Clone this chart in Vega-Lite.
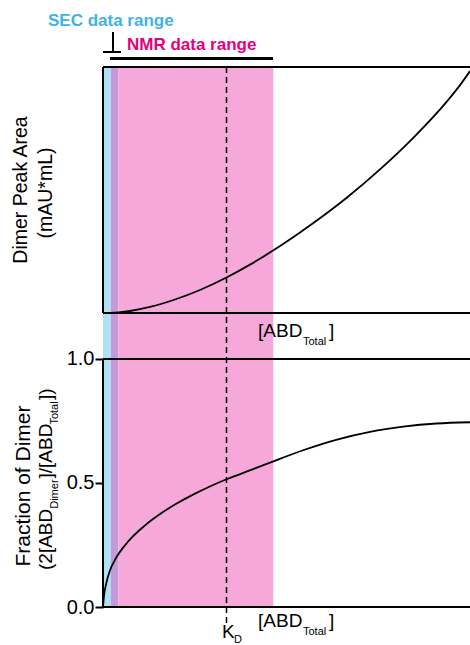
{
  "$schema": "https://vega.github.io/schema/vega-lite/v6.json",
  "width": 367,
  "height": 540,
  "autosize": {"type": "none"},
  "padding": {"left": 103, "top": 67, "right": 0, "bottom": 38},
  "background": "white",
  "config": {"view": {"stroke": null}, "font": "Liberation Sans"},
  "datasets": {
    "bands": [
      {"band": "SEC", "x1": 0.0, "x2": 0.0623, "y1": 0, "y2": 2.1774},
      {"band": "overlap", "x1": 0.0623, "x2": 0.1239, "y1": 0, "y2": 2.1774},
      {"band": "NMR", "x1": 0.1239, "x2": 1.379, "y1": 0, "y2": 2.1774}
    ],
    "frame": [
      {"x1": 0, "x2": 0, "y1": 1.1855, "y2": 2.1774},
      {"x1": 0, "x2": 2.9717, "y1": 2.1774, "y2": 2.1774},
      {"x1": 0, "x2": 2.9717, "y1": 1.1855, "y2": 1.1855},
      {"x1": 0, "x2": 2.9717, "y1": 1, "y2": 1},
      {"x1": 0, "x2": 0, "y1": 0, "y2": 1},
      {"x1": 0, "x2": 2.9717, "y1": 0, "y2": 0}
    ],
    "secMark": [
      {"x1": 0.081, "x2": 0.081, "y1": 2.2379, "y2": 2.3185},
      {"x1": 0.0, "x2": 0.1457, "y1": 2.2379, "y2": 2.2379}
    ],
    "nmrMark": [
      {"x1": 0.0567, "x2": 1.3765, "y1": 2.2117, "y2": 2.2117}
    ],
    "curves": [
      {"curve": "peak", "x": 0.008, "y": 1.1855},
      {"curve": "peak", "x": 0.0567, "y": 1.1857},
      {"curve": "peak", "x": 0.2186, "y": 1.1935},
      {"curve": "peak", "x": 0.3806, "y": 1.2097},
      {"curve": "peak", "x": 0.583, "y": 1.2399},
      {"curve": "peak", "x": 0.7854, "y": 1.2782},
      {"curve": "peak", "x": 1.0, "y": 1.3286},
      {"curve": "peak", "x": 1.1903, "y": 1.3806},
      {"curve": "peak", "x": 1.3765, "y": 1.4371},
      {"curve": "peak", "x": 1.5951, "y": 1.5101},
      {"curve": "peak", "x": 1.7004, "y": 1.5472},
      {"curve": "peak", "x": 1.9757, "y": 1.6512},
      {"curve": "peak", "x": 2.2429, "y": 1.7645},
      {"curve": "peak", "x": 2.5101, "y": 1.8907},
      {"curve": "peak", "x": 2.7854, "y": 2.0387},
      {"curve": "peak", "x": 2.8907, "y": 2.1044},
      {"curve": "peak", "x": 2.9717, "y": 2.1609},
      {"curve": "fraction", "x": 0.0, "y": 0.0},
      {"curve": "fraction", "x": 0.008, "y": 0.045},
      {"curve": "fraction", "x": 0.024, "y": 0.09},
      {"curve": "fraction", "x": 0.057, "y": 0.148},
      {"curve": "fraction", "x": 0.097, "y": 0.19},
      {"curve": "fraction", "x": 0.2, "y": 0.262},
      {"curve": "fraction", "x": 0.34, "y": 0.329},
      {"curve": "fraction", "x": 0.48, "y": 0.381},
      {"curve": "fraction", "x": 0.6, "y": 0.418},
      {"curve": "fraction", "x": 0.745, "y": 0.457},
      {"curve": "fraction", "x": 0.87, "y": 0.487},
      {"curve": "fraction", "x": 1.0, "y": 0.515},
      {"curve": "fraction", "x": 1.2, "y": 0.553},
      {"curve": "fraction", "x": 1.352, "y": 0.582},
      {"curve": "fraction", "x": 1.62, "y": 0.632},
      {"curve": "fraction", "x": 1.895, "y": 0.675},
      {"curve": "fraction", "x": 2.162, "y": 0.706},
      {"curve": "fraction", "x": 2.43, "y": 0.727},
      {"curve": "fraction", "x": 2.7, "y": 0.74},
      {"curve": "fraction", "x": 2.9717, "y": 0.745}
    ],
    "kd": [{"x": 1.0, "y1": -0.065, "y2": 2.1774}],
    "secLabel": [{"label": "SEC data range", "x": -0.4453, "y": 2.3427}],
    "nmrLabel": [{"label": "NMR data range", "x": 0.1943, "y": 2.246}],
    "titleTop": [
      {"label": "Dimer Peak Area", "x": -0.6154, "y": 1.6815},
      {"label": "(mAU*mL)", "x": -0.417, "y": 1.6694}
    ],
    "titleBottom": [
      {"label": "Fraction of Dimer", "x": -0.5911, "y": 0.4879}
    ],
    "titleMain": [
      {"label": "(2[ABD", "x": -0.413, "y": 0.1492},
      {"label": "]/[ABD", "x": -0.413, "y": 0.5181},
      {"label": "])", "x": -0.413, "y": 0.8343}
    ],
    "titleSub": [
      {"label": "Dimer", "x": -0.3644, "y": 0.396},
      {"label": "Total", "x": -0.3644, "y": 0.7355}
    ],
    "xLabelMain": [
      {"label": "[ABD", "x": 1.2551, "y": 1.0887},
      {"label": "]", "x": 1.83, "y": 1.0887},
      {"label": "[ABD", "x": 1.2551, "y": -0.0806},
      {"label": "]", "x": 1.83, "y": -0.0806},
      {"label": "K", "x": 0.9636, "y": -0.125}
    ],
    "xLabelSub": [
      {"label": "Total", "x": 1.6194, "y": 1.0565},
      {"label": "Total", "x": 1.6194, "y": -0.1129},
      {"label": "D", "x": 1.0607, "y": -0.1452}
    ]
  },
  "layer": [
    {
      "data": {"name": "bands"},
      "mark": {"type": "rect"},
      "encoding": {
        "x": {"field": "x1", "type": "quantitative", "scale": {"domain": [0, 2.9717], "nice": false, "zero": false}, "axis": null},
        "x2": {"field": "x2"},
        "y": {"field": "y1", "type": "quantitative", "scale": {"domain": [0, 2.1774], "nice": false, "zero": false},
          "axis": {"values": [0, 0.5, 1], "format": ".1f", "domain": false, "grid": false, "ticks": true, "tickSize": 8, "tickWidth": 2, "tickColor": "black", "labelFont": "Liberation Sans", "labelFontSize": 20, "labelColor": "black", "labelPadding": 1, "title": null}},
        "y2": {"field": "y2"},
        "color": {"field": "band", "type": "nominal", "scale": {"domain": ["SEC", "overlap", "NMR"], "range": ["#aee2f6", "#c49ad8", "#f5a8d9"]}, "legend": null}
      }
    },
    {
      "data": {"name": "frame"},
      "mark": {"type": "rule", "color": "black", "strokeWidth": 2},
      "encoding": {
        "x": {"field": "x1", "type": "quantitative", "scale": {"domain": [0, 2.9717], "nice": false, "zero": false}, "axis": null},
        "x2": {"field": "x2"},
        "y": {"field": "y1", "type": "quantitative", "scale": {"domain": [0, 2.1774], "nice": false, "zero": false},
          "axis": {"values": [0, 0.5, 1], "format": ".1f", "domain": false, "grid": false, "ticks": true, "tickSize": 8, "tickWidth": 2, "tickColor": "black", "labelFont": "Liberation Sans", "labelFontSize": 20, "labelColor": "black", "labelPadding": 1, "title": null}},
        "y2": {"field": "y2"}
      }
    },
    {
      "data": {"name": "secMark"},
      "mark": {"type": "rule", "color": "black", "strokeWidth": 2},
      "encoding": {
        "x": {"field": "x1", "type": "quantitative", "scale": {"domain": [0, 2.9717], "nice": false, "zero": false}, "axis": null},
        "x2": {"field": "x2"},
        "y": {"field": "y1", "type": "quantitative", "scale": {"domain": [0, 2.1774], "nice": false, "zero": false},
          "axis": {"values": [0, 0.5, 1], "format": ".1f", "domain": false, "grid": false, "ticks": true, "tickSize": 8, "tickWidth": 2, "tickColor": "black", "labelFont": "Liberation Sans", "labelFontSize": 20, "labelColor": "black", "labelPadding": 1, "title": null}},
        "y2": {"field": "y2"}
      }
    },
    {
      "data": {"name": "nmrMark"},
      "mark": {"type": "rule", "color": "black", "strokeWidth": 3},
      "encoding": {
        "x": {"field": "x1", "type": "quantitative", "scale": {"domain": [0, 2.9717], "nice": false, "zero": false}, "axis": null},
        "x2": {"field": "x2"},
        "y": {"field": "y1", "type": "quantitative", "scale": {"domain": [0, 2.1774], "nice": false, "zero": false},
          "axis": {"values": [0, 0.5, 1], "format": ".1f", "domain": false, "grid": false, "ticks": true, "tickSize": 8, "tickWidth": 2, "tickColor": "black", "labelFont": "Liberation Sans", "labelFontSize": 20, "labelColor": "black", "labelPadding": 1, "title": null}},
        "y2": {"field": "y2"}
      }
    },
    {
      "data": {"name": "kd"},
      "mark": {"type": "rule", "color": "black", "strokeWidth": 1.5, "strokeDash": [6, 4]},
      "encoding": {
        "x": {"field": "x", "type": "quantitative", "scale": {"domain": [0, 2.9717], "nice": false, "zero": false}, "axis": null},
        "y": {"field": "y1", "type": "quantitative", "scale": {"domain": [0, 2.1774], "nice": false, "zero": false},
          "axis": {"values": [0, 0.5, 1], "format": ".1f", "domain": false, "grid": false, "ticks": true, "tickSize": 8, "tickWidth": 2, "tickColor": "black", "labelFont": "Liberation Sans", "labelFontSize": 20, "labelColor": "black", "labelPadding": 1, "title": null}},
        "y2": {"field": "y2"}
      }
    },
    {
      "data": {"name": "curves"},
      "mark": {"type": "line", "color": "black", "strokeWidth": 1.8, "interpolate": "monotone"},
      "encoding": {
        "x": {"field": "x", "type": "quantitative", "scale": {"domain": [0, 2.9717], "nice": false, "zero": false}, "axis": null},
        "y": {"field": "y", "type": "quantitative", "scale": {"domain": [0, 2.1774], "nice": false, "zero": false},
          "axis": {"values": [0, 0.5, 1], "format": ".1f", "domain": false, "grid": false, "ticks": true, "tickSize": 8, "tickWidth": 2, "tickColor": "black", "labelFont": "Liberation Sans", "labelFontSize": 20, "labelColor": "black", "labelPadding": 1, "title": null}},
        "detail": {"field": "curve", "type": "nominal"}
      }
    },
    {
      "data": {"name": "secLabel"},
      "mark": {"type": "text", "align": "left", "baseline": "alphabetic", "font": "Liberation Sans", "fontSize": 17, "fontWeight": "bold", "color": "#3fb3e5"},
      "encoding": {
        "x": {"field": "x", "type": "quantitative", "scale": {"domain": [0, 2.9717], "nice": false, "zero": false}, "axis": null},
        "y": {"field": "y", "type": "quantitative", "scale": {"domain": [0, 2.1774], "nice": false, "zero": false},
          "axis": {"values": [0, 0.5, 1], "format": ".1f", "domain": false, "grid": false, "ticks": true, "tickSize": 8, "tickWidth": 2, "tickColor": "black", "labelFont": "Liberation Sans", "labelFontSize": 20, "labelColor": "black", "labelPadding": 1, "title": null}},
        "text": {"field": "label"}
      }
    },
    {
      "data": {"name": "nmrLabel"},
      "mark": {"type": "text", "align": "left", "baseline": "alphabetic", "font": "Liberation Sans", "fontSize": 17, "fontWeight": "bold", "color": "#e4007f"},
      "encoding": {
        "x": {"field": "x", "type": "quantitative", "scale": {"domain": [0, 2.9717], "nice": false, "zero": false}, "axis": null},
        "y": {"field": "y", "type": "quantitative", "scale": {"domain": [0, 2.1774], "nice": false, "zero": false},
          "axis": {"values": [0, 0.5, 1], "format": ".1f", "domain": false, "grid": false, "ticks": true, "tickSize": 8, "tickWidth": 2, "tickColor": "black", "labelFont": "Liberation Sans", "labelFontSize": 20, "labelColor": "black", "labelPadding": 1, "title": null}},
        "text": {"field": "label"}
      }
    },
    {
      "data": {"name": "titleTop"},
      "mark": {"type": "text", "angle": 270, "align": "center", "baseline": "alphabetic", "font": "Liberation Sans", "fontSize": 19.5, "color": "black"},
      "encoding": {
        "x": {"field": "x", "type": "quantitative", "scale": {"domain": [0, 2.9717], "nice": false, "zero": false}, "axis": null},
        "y": {"field": "y", "type": "quantitative", "scale": {"domain": [0, 2.1774], "nice": false, "zero": false},
          "axis": {"values": [0, 0.5, 1], "format": ".1f", "domain": false, "grid": false, "ticks": true, "tickSize": 8, "tickWidth": 2, "tickColor": "black", "labelFont": "Liberation Sans", "labelFontSize": 20, "labelColor": "black", "labelPadding": 1, "title": null}},
        "text": {"field": "label"}
      }
    },
    {
      "data": {"name": "titleBottom"},
      "mark": {"type": "text", "angle": 270, "align": "center", "baseline": "alphabetic", "font": "Liberation Sans", "fontSize": 21, "color": "black"},
      "encoding": {
        "x": {"field": "x", "type": "quantitative", "scale": {"domain": [0, 2.9717], "nice": false, "zero": false}, "axis": null},
        "y": {"field": "y", "type": "quantitative", "scale": {"domain": [0, 2.1774], "nice": false, "zero": false},
          "axis": {"values": [0, 0.5, 1], "format": ".1f", "domain": false, "grid": false, "ticks": true, "tickSize": 8, "tickWidth": 2, "tickColor": "black", "labelFont": "Liberation Sans", "labelFontSize": 20, "labelColor": "black", "labelPadding": 1, "title": null}},
        "text": {"field": "label"}
      }
    },
    {
      "data": {"name": "titleMain"},
      "mark": {"type": "text", "angle": 270, "align": "left", "baseline": "alphabetic", "font": "Liberation Sans", "fontSize": 19, "color": "black"},
      "encoding": {
        "x": {"field": "x", "type": "quantitative", "scale": {"domain": [0, 2.9717], "nice": false, "zero": false}, "axis": null},
        "y": {"field": "y", "type": "quantitative", "scale": {"domain": [0, 2.1774], "nice": false, "zero": false},
          "axis": {"values": [0, 0.5, 1], "format": ".1f", "domain": false, "grid": false, "ticks": true, "tickSize": 8, "tickWidth": 2, "tickColor": "black", "labelFont": "Liberation Sans", "labelFontSize": 20, "labelColor": "black", "labelPadding": 1, "title": null}},
        "text": {"field": "label"}
      }
    },
    {
      "data": {"name": "titleSub"},
      "mark": {"type": "text", "angle": 270, "align": "left", "baseline": "alphabetic", "font": "Liberation Sans", "fontSize": 11, "color": "black"},
      "encoding": {
        "x": {"field": "x", "type": "quantitative", "scale": {"domain": [0, 2.9717], "nice": false, "zero": false}, "axis": null},
        "y": {"field": "y", "type": "quantitative", "scale": {"domain": [0, 2.1774], "nice": false, "zero": false},
          "axis": {"values": [0, 0.5, 1], "format": ".1f", "domain": false, "grid": false, "ticks": true, "tickSize": 8, "tickWidth": 2, "tickColor": "black", "labelFont": "Liberation Sans", "labelFontSize": 20, "labelColor": "black", "labelPadding": 1, "title": null}},
        "text": {"field": "label"}
      }
    },
    {
      "data": {"name": "xLabelMain"},
      "mark": {"type": "text", "align": "left", "baseline": "alphabetic", "font": "Liberation Sans", "fontSize": 19, "color": "black"},
      "encoding": {
        "x": {"field": "x", "type": "quantitative", "scale": {"domain": [0, 2.9717], "nice": false, "zero": false}, "axis": null},
        "y": {"field": "y", "type": "quantitative", "scale": {"domain": [0, 2.1774], "nice": false, "zero": false},
          "axis": {"values": [0, 0.5, 1], "format": ".1f", "domain": false, "grid": false, "ticks": true, "tickSize": 8, "tickWidth": 2, "tickColor": "black", "labelFont": "Liberation Sans", "labelFontSize": 20, "labelColor": "black", "labelPadding": 1, "title": null}},
        "text": {"field": "label"}
      }
    },
    {
      "data": {"name": "xLabelSub"},
      "mark": {"type": "text", "align": "left", "baseline": "alphabetic", "font": "Liberation Sans", "fontSize": 11, "color": "black"},
      "encoding": {
        "x": {"field": "x", "type": "quantitative", "scale": {"domain": [0, 2.9717], "nice": false, "zero": false}, "axis": null},
        "y": {"field": "y", "type": "quantitative", "scale": {"domain": [0, 2.1774], "nice": false, "zero": false},
          "axis": {"values": [0, 0.5, 1], "format": ".1f", "domain": false, "grid": false, "ticks": true, "tickSize": 8, "tickWidth": 2, "tickColor": "black", "labelFont": "Liberation Sans", "labelFontSize": 20, "labelColor": "black", "labelPadding": 1, "title": null}},
        "text": {"field": "label"}
      }
    }
  ]
}
